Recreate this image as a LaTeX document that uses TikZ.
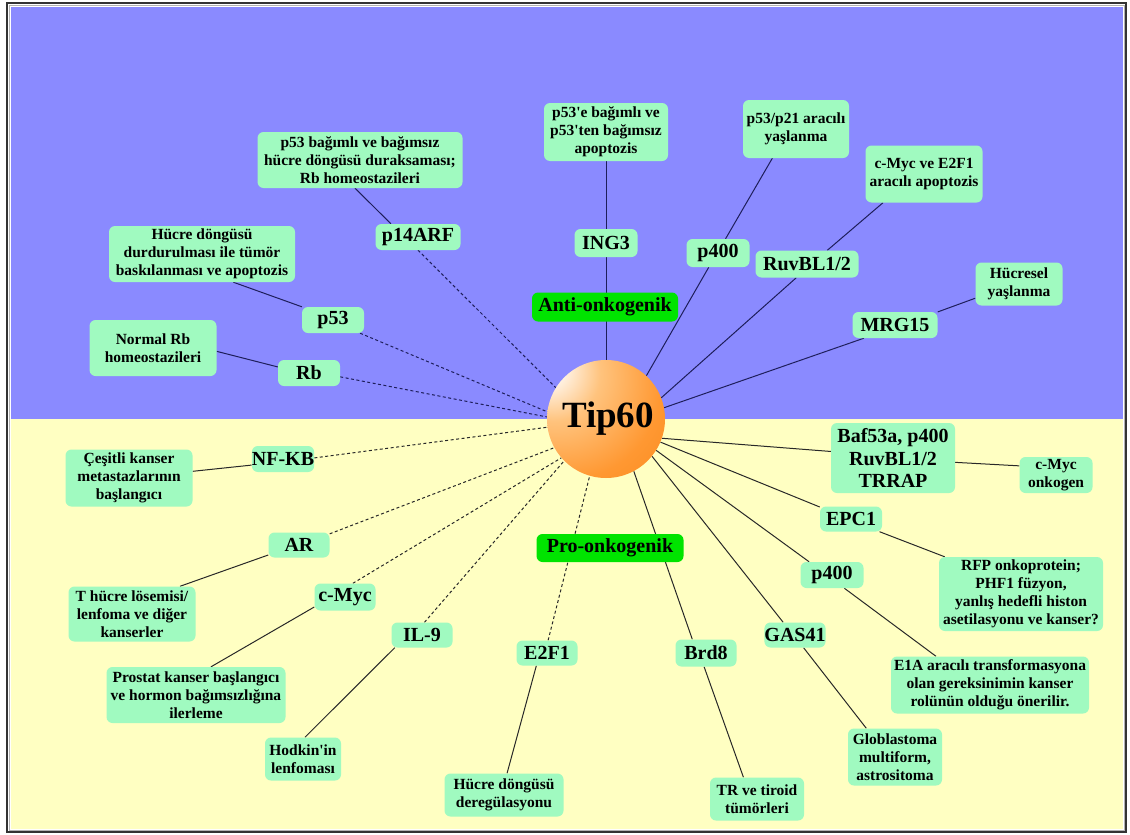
\documentclass[tikz,border=0pt]{standalone}
\usepackage{fontspec}
\setmainfont{Liberation Serif}
\definecolor{bgblue}{RGB}{138,138,255}
\definecolor{bgyel}{RGB}{255,255,194}
\definecolor{mint}{RGB}{160,250,192}
\definecolor{lblgreen}{RGB}{0,228,0}
\definecolor{navy}{RGB}{30,30,90}
\definecolor{dk}{RGB}{40,40,40}
\definecolor{balllight}{RGB}{255,195,125}
\definecolor{ballmid}{RGB}{255,152,50}
\definecolor{ballout}{RGB}{246,124,8}
\pgfdeclareradialshading{tipball}{\pgfpoint{-28bp}{24bp}}{color(0bp)=(white); color(5bp)=(white); color(20bp)=(balllight); color(40bp)=(ballmid); color(72bp)=(ballout); color(100bp)=(ballout)}
\pgfdeclarelayer{back}
\pgfdeclarelayer{lines}
\pgfsetlayers{back,lines,main}
\tikzset{
  box/.style={fill=mint, rounded corners=6pt, inner sep=0pt, align=center, text=black,
    font=\bfseries\fontsize{15.5}{18}\selectfont},
  gene/.style={box, font=\bfseries\fontsize{20}{22.5}\selectfont},
  tag/.style={gene, fill=lblgreen},
  topline/.style={draw=navy, line width=1pt},
  topdash/.style={topline, dash pattern=on 3pt off 2.5pt},
  botline/.style={draw=dk, line width=1pt},
  botdash/.style={botline, dash pattern=on 3pt off 2.5pt},
}
\begin{document}
\begin{tikzpicture}[x=1pt, y=-1pt]
\useasboundingbox (0,0) rectangle (1130,835);
\begin{pgfonlayer}{back}
\fill[white] (0,0) rectangle (1130,835);
\fill[bgblue] (11,7) rectangle (1123,419);
\fill[bgyel] (11,419) rectangle (1123,829);
\draw[gray!60, line width=1pt] (9.5,5.5) rectangle (1124.5,830.5);
\draw[black!80, line width=1.5pt] (7,3) rectangle (1126,832);
\end{pgfonlayer}

% centre
\node[circle, minimum size=118pt, inner sep=0pt, shading=tipball,
  font=\bfseries\fontsize{37}{40}\selectfont] (tip) at (606,419) {\hspace*{4pt}Tip60};

% top half
\node[box, minimum width=205pt, minimum height=56pt] (pbag) at (360,160) {p53 bağımlı ve bağımsız\\hücre döngüsü duraksaması;\\Rb homeostazileri};
\node[gene, minimum width=85pt, minimum height=26pt] (p14) at (418,237) {p14ARF};
\node[box, minimum width=186pt, minimum height=56pt] (hucre1) at (202,254) {Hücre döngüsü\\durdurulması ile tümör\\baskılanması ve apoptozis};
\node[gene, minimum width=62pt, minimum height=26pt] (p53) at (333,320) {p53};
\node[box, minimum width=127pt, minimum height=56pt] (normrb) at (153,348) {Normal Rb\\homeostazileri};
\node[gene, minimum width=62pt, minimum height=26pt] (rb) at (309,373) {Rb};
\node[box, minimum width=124pt, minimum height=58pt] (p53e) at (606,132) {p53\textquotesingle e bağımlı ve\\p53\textquotesingle ten bağımsız\\apoptozis};
\node[gene, minimum width=63pt, minimum height=28pt] (ing3) at (606,243) {ING3};
\node[tag, minimum width=146pt, minimum height=29pt] (anti) at (605,307) {Anti-onkogenik};
\node[box, minimum width=106pt, minimum height=58pt] (p5321) at (796,129) {p53/p21 aracılı\\yaşlanma};
\node[gene, minimum width=63pt, minimum height=28pt] (p400a) at (718,253) {p400};
\node[box, minimum width=117pt, minimum height=57pt] (cmyce2f) at (924,174) {c-Myc ve E2F1\\aracılı apoptozis};
\node[gene, minimum width=103pt, minimum height=27pt] (ruvbl) at (807,264) {RuvBL1/2};
\node[box, minimum width=87pt, minimum height=43pt] (hucresel) at (1019,284) {Hücresel\\yaşlanma};
\node[gene, minimum width=85pt, minimum height=26pt] (mrg) at (895,325) {MRG15};

% bottom half
\node[box, minimum width=127pt, minimum height=57pt] (cesitli) at (129,478) {Çeşitli kanser\\metastazlarının\\başlangıcı};
\node[gene, minimum width=61pt, minimum height=26pt] (nfkb) at (283,459) {NF-KB};
\node[gene, minimum width=61pt, minimum height=25pt] (ar) at (299,545) {AR};
\node[box, minimum width=127pt, minimum height=55pt] (thucre) at (132,614) {T hücre lösemisi/\\lenfoma ve diğer\\kanserler};
\node[gene, minimum width=61pt, minimum height=27pt] (cmyc) at (345,597) {c-Myc};
\node[gene, minimum width=61pt, minimum height=25pt] (il9) at (422,635) {IL-9};
\node[box, minimum width=179pt, minimum height=56pt] (prostat) at (196,695) {Prostat kanser başlangıcı\\ve hormon bağımsızlığına\\ilerleme};
\node[tag, minimum width=147pt, minimum height=28pt] (pro) at (610,548) {Pro-onkogenik};
\node[gene, minimum width=61pt, minimum height=25pt] (e2f1) at (547,653) {E2F1};
\node[box, minimum width=76pt, minimum height=43pt] (hodkin) at (303,759) {Hodkin\textquotesingle in\\lenfoması};
\node[box, minimum width=119pt, minimum height=43pt] (dereg) at (504,795) {Hücre döngüsü\\deregülasyonu};
\node[gene, minimum width=61pt, minimum height=27pt] (brd8) at (706,653) {Brd8};
\node[box, minimum width=94pt, minimum height=43pt] (tr) at (757,799) {TR ve tiroid\\tümörleri};
\node[gene, minimum width=61pt, minimum height=25pt] (gas41) at (795,635) {GAS41};
\node[box, minimum width=94pt, minimum height=57pt] (glob) at (895,757) {Globlastoma\\multiform,\\astrositoma};
\node[gene, minimum width=63pt, minimum height=26pt] (p400b) at (832,575) {p400};
\node[box, minimum width=198pt, minimum height=57pt] (e1a) at (990,685) {E1A aracılı transformasyona\\olan gereksinimin kanser\\rolünün olduğu önerilir.};
\node[gene, minimum width=62pt, minimum height=25pt] (epc1) at (851,519) {EPC1};
\node[box, minimum width=164pt, minimum height=74pt] (rfp) at (1021,594) {RFP onkoprotein;\\PHF1 füzyon,\\yanlış hedefli histon\\asetilasyonu ve kanser?};
\node[gene, minimum width=124pt, minimum height=70pt] (baf) at (893,458) {Baf53a, p400\\RuvBL1/2\\TRRAP};
\node[box, minimum width=73pt, minimum height=36pt] (cmycon) at (1056,475) {c-Myc\\onkogen};

\begin{pgfonlayer}{lines}
% top connectors
\draw[topline] (ing3.90) -- (p53e.270);
\draw[topline] (tip.90) -- (ing3.270);
\draw[topline] (p5321.231) -- (p400a.62);
\draw[topline] (p400a.237) -- (tip.47);
\draw[topline] (cmyce2f.215) -- (ruvbl.34);
\draw[topline] (ruvbl.232) -- (tip.21);
\draw[topline] (hucresel.198) -- (mrg.17);
\draw[topline] (mrg.203) -- (tip.11);
\draw[topline] (pbag.260) -- (p14.154);
\draw[topdash] (p14.270) -- (tip.148);
\draw[topline] (hucre1.318) -- (p53.157);
\draw[topdash] (p53.334) -- (tip.173);
\draw[topline] (normrb.357) -- (rb.169);
\draw[topdash] (rb.353) -- (tip.178);
% bottom connectors
\draw[botline] (cesitli.6) -- (nfkb.191);
\draw[botdash] (nfkb.2) -- (tip.188);
\draw[botline] (thucre.30) -- (ar.198);
\draw[botdash] (ar.20) -- (tip.209);
\draw[botline] (prostat.62) -- (cmyc.198);
\draw[botdash] (cmyc.60) -- (tip.221);
\draw[botline] (hodkin.85) -- (il9.205);
\draw[botdash] (il9.79) -- (tip.225);
\draw[botline] (dereg.82) -- (e2f1.230);
\draw[botdash] (e2f1.85) -- (tip.254);
\draw[botline] (tip.298) -- (brd8.135);
\draw[botline] (brd8.262) -- (tr.122);
\draw[botline] (tip.321) -- (gas41.133);
\draw[botline] (gas41.304) -- (glob.135);
\draw[botline] (tip.328) -- (p400b.150);
\draw[botline] (p400b.313) -- (e1a.152);
\draw[botline] (tip.337) -- (epc1.159);
\draw[botline] (epc1.336) -- (rfp.154);
\draw[botline] (tip.341) -- (baf.174);
\draw[botline] (baf.356) -- (cmycon.166);
\end{pgfonlayer}
\end{tikzpicture}
\end{document}
